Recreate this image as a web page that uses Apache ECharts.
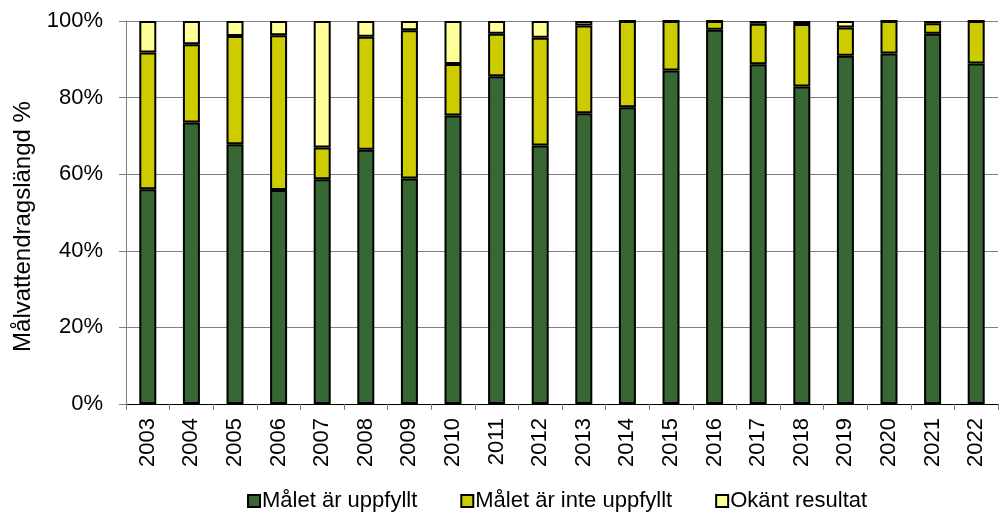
<!DOCTYPE html>
<html>
<head>
<meta charset="utf-8">
<script src="https://cdn.jsdelivr.net/npm/echarts@6/dist/echarts.min.js"></script>
<style>
  html, body { margin: 0; padding: 0; background: #fff; }
  #chart { width: 1000px; height: 513px; }
</style>
</head>
<body>
<div id="chart"></div>
<script>
// år
const years = ['2003','2004','2005','2006','2007','2008','2009','2010','2011','2012',
               '2013','2014','2015','2016','2017','2018','2019','2020','2021','2022'];
// andel i procent
const met     = [56.1, 73.5, 67.8, 55.9, 58.7, 66.4, 58.9, 75.3, 85.6, 67.5,
                 75.9, 77.5, 87.1, 97.7, 88.7, 82.9, 90.9, 91.5, 96.7, 88.9];
const notMet  = [35.7, 20.4, 28.3, 40.4, 8.3, 29.5, 38.7, 13.5, 11.1, 28.1,
                 22.9, 22.5, 12.9, 2.3, 10.6, 16.3, 7.4, 8.5, 2.7, 11.1];
const unknown = [8.2, 6.1, 3.9, 3.7, 33.0, 4.1, 2.4, 11.2, 3.3, 4.4,
                 1.2, 0, 0, 0, 0.7, 0.8, 1.7, 0, 0.6, 0];
const yTicks = [0, 20, 40, 60, 80, 100];

const font = 'Liberation Sans, Arial, sans-serif';

function barSeries(name, data, color){
    return {
        name: name,
        type: 'bar',
        stack: 'total',
        barWidth: 17,
        data: data,
        itemStyle: { color: color, borderColor: '#000', borderWidth: 2 }
    };
}

let chart = echarts.init(document.getElementById('chart'));
let option = {
    animation: false,
    textStyle: { fontFamily: font },
    grid: { left: 126, right: 2, top: 21, bottom: 109 },
    legend: {
        top: 485,
        left: 242,
        itemWidth: 12,
        itemHeight: 12,
        itemGap: 43,
        icon: 'rect',
        itemStyle: { borderColor: '#000', borderWidth: 2 },
        textStyle: { fontSize: 22, color: '#000', fontFamily: font, padding: [0, 0, 0, -3] },
        data: ['Målet är uppfyllt', 'Målet är inte uppfyllt', 'Okänt resultat']
    },
    xAxis: {
        type: 'category',
        data: years,
        axisLine: { lineStyle: { color: '#000', width: 1 } },
        axisTick: { show: true, length: 6, lineStyle: { color: '#808080' } },
        axisLabel: { rotate: 90, fontSize: 22, color: '#000', margin: 14, fontFamily: font }
    },
    yAxis: {
        type: 'value',
        min: yTicks[0],
        max: yTicks[yTicks.length - 1],
        interval: 20,
        name: 'Målvattendragslängd %',
        nameLocation: 'middle',
        nameGap: 91,
        nameTextStyle: { fontSize: 24, color: '#000', fontFamily: font, padding: [0, 28, 0, 0] },
        axisLine: { show: true, lineStyle: { color: '#808080' } },
        axisTick: { show: true, length: 7, lineStyle: { color: '#808080' } },
        axisLabel: { formatter: '{value}%', fontSize: 22, color: '#000', margin: 23, fontFamily: font },
        splitLine: { lineStyle: { color: '#808080', width: 1 } }
    },
    series: [
        barSeries('Målet är uppfyllt', met, '#376833'),
        barSeries('Målet är inte uppfyllt', notMet, '#cccc00'),
        barSeries('Okänt resultat', unknown, '#ffff99')
    ]
};
chart.setOption(option);
</script>
</body>
</html>
